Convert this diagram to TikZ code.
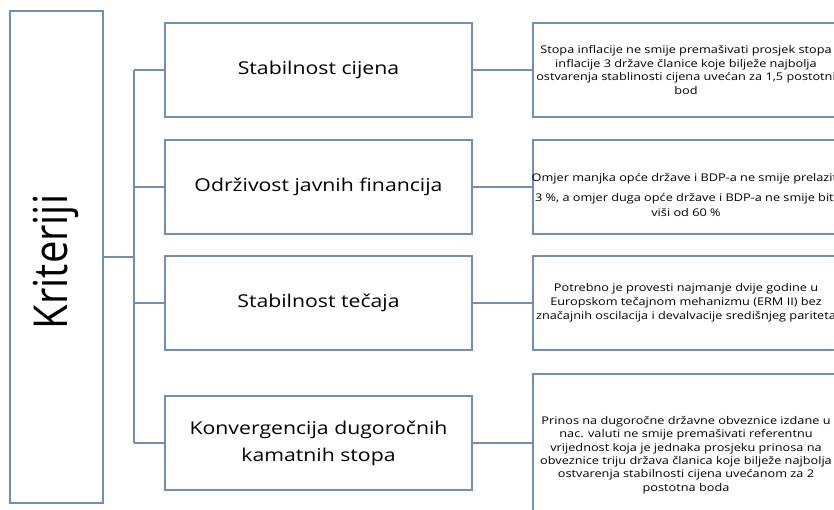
\documentclass[tikz,border=0pt]{standalone}
\usepackage{fontspec}
\setmainfont{Open Sans}[FakeStretch=1.2]
\newfontfamily\naslovfont{Open Sans}
\definecolor{kritplava}{HTML}{6F8FC3}

\begin{document}
\begin{tikzpicture}[x=1pt,y=-1pt]
  \tikzstyle{okvir}=[draw=kritplava,fill=white,line width=2pt,inner sep=0pt]
  \tikzstyle{krit}=[okvir,minimum width=307pt,minimum height=94pt,align=center,font=\fontsize{17.7}{27}\selectfont]
  \tikzstyle{opis}=[okvir,minimum width=306pt,minimum height=94pt]
  \tikzstyle{opistekst}=[align=center,inner sep=0pt,font=\fontsize{10.6}{13.8}\selectfont]
  \tikzstyle{veza}=[kritplava,line width=2pt]

  \useasboundingbox (0,0) rectangle (834,510);
  \clip (0,0) rectangle (834,510);

  % lijevi okvir
  \node [okvir,minimum width=93pt,minimum height=492pt] (glavni) at (56.5,257) {};
  \node [rotate=90,font=\naslovfont\fontsize{40}{44}\selectfont] (naslov) at (56,262) {\scalebox{1}[1.17]{Kriteriji}};

  % kriteriji
  \node [krit] (k1) at (318.5,70) {Stabilnost cijena};
  \node [krit] (k2) at (318.5,187) {Održivost javnih financija};
  \node [krit] (k3) at (318.5,303) {Stabilnost tečaja};
  \node [krit] (k4) at (318.5,443) {Konvergencija dugoročnih\\kamatnih stopa};

  % opisi
  \node [opis] (o1) at (686,70) {};
  \node [opis] (o2) at (686,187) {};
  \node [opis] (o3) at (686,303) {};
  \node [opis,minimum height=162pt] (o4) at (686,455) {};
  \node [opistekst] (t1) at (o1) {Stopa inflacije ne smije premašivati prosjek stopa\\inflacije 3 države članice koje bilježe najbolja\\ostvarenja stablinosti cijena uvećan za 1,5 postotni\\bod};
  \node [opistekst,yshift=-8pt] (t2) at (o2) {Omjer manjka opće države i BDP-a ne smije prelaziti\\[6pt]3 \%, a omjer duga opće države i BDP-a ne smije biti\\[2pt]viši od 60 \%};
  \node [opistekst] (t3) at (o3) {Potrebno je provesti najmanje dvije godine u\\Europskom tečajnom mehanizmu (ERM II) bez\\značajnih oscilacija i devalvacije središnjeg pariteta};
  \node [opistekst,font=\fontsize{10.6}{13.3}\selectfont] (t4) at (o4) {Prinos na dugoročne državne obveznice izdane u\\nac. valuti ne smije premašivati referentnu\\vrijednost koja je jednaka prosjeku prinosa na\\obveznice triju država članica koje bilježe najbolja\\ostvarenja stabilnosti cijena uvećanom za 2\\postotna boda};

  % veze
  \coordinate (grana) at (134,257);
  \draw [veza] (glavni.east) -- (grana);
  \draw [veza] (grana |- k1.west) -- (grana |- k4.west);
  \foreach \i in {1,...,4} {
    \draw [veza] (grana |- k\i.west) -- (k\i.west);
    \draw [veza] (k\i.east) -- (k\i.east -| o\i.west);
  }
\end{tikzpicture}
\end{document}
